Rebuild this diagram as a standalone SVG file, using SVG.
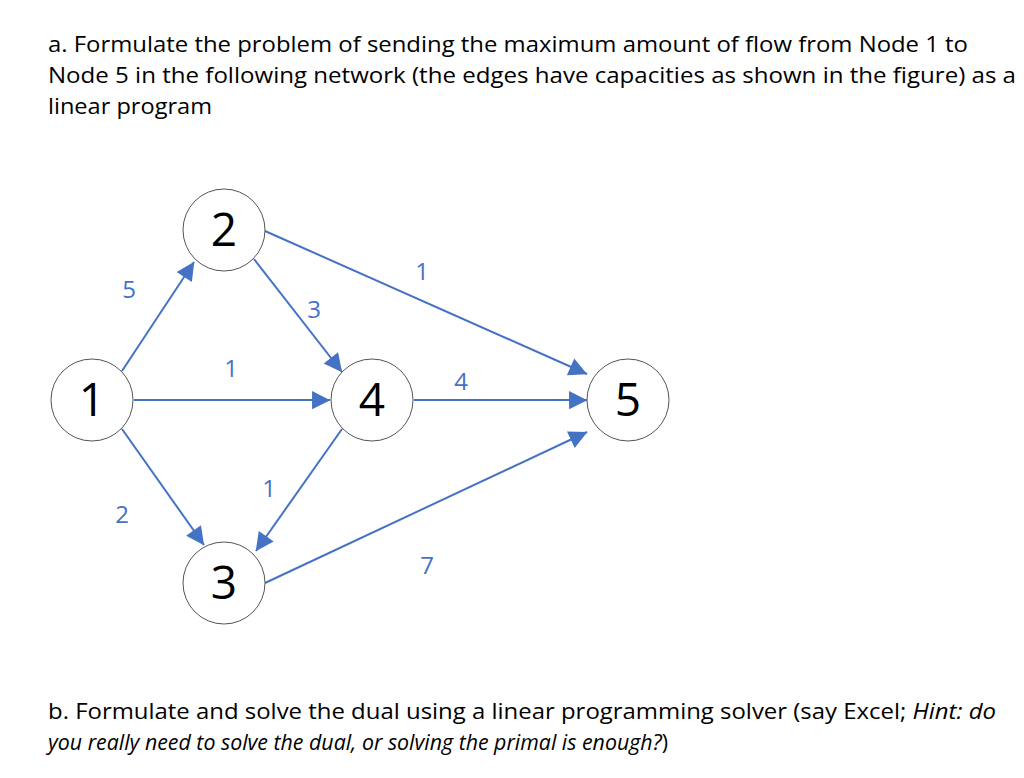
<svg xmlns="http://www.w3.org/2000/svg" width="1024" height="778" viewBox="0 0 1024 778">
<style>
.t{font-family:"Open Sans","Liberation Sans",sans-serif;font-size:21px;fill:#000}
.n circle{fill:#fff;stroke:#555;stroke-width:1}
.n text{font-family:"Open Sans","Liberation Sans",sans-serif;font-size:46px;fill:#000;text-anchor:middle}
.e line{stroke:#4472C4;stroke-width:2;marker-end:url(#a)}
.l{font-family:"Open Sans","Liberation Sans",sans-serif;font-size:24px;fill:#4472C4;text-anchor:middle}
</style>
<defs><marker id="a" viewBox="0 0 10 10" refX="10" refY="5" markerWidth="7" markerHeight="7" orient="auto" markerUnits="userSpaceOnUse" style="overflow:visible"><path d="M0,0L10,5L0,10z" fill="#4472C4" transform="scale(2.6) translate(-6,-3)"/></marker></defs>
<rect width="1024" height="778" fill="#fff"/>
<text class="t" x="48" y="52" textLength="920" lengthAdjust="spacingAndGlyphs">a. Formulate the problem of sending the maximum amount of flow from Node 1 to</text>
<text class="t" x="48" y="83" textLength="968" lengthAdjust="spacingAndGlyphs">Node 5 in the following network (the edges have capacities as shown in the figure) as a</text>
<text class="t" x="48" y="114" textLength="164" lengthAdjust="spacingAndGlyphs">linear program</text>
<text class="t" x="48" y="719" textLength="948" lengthAdjust="spacingAndGlyphs">b. Formulate and solve the dual using a linear programming solver (say Excel; <tspan font-style="italic">Hint: do</tspan></text>
<text class="t" x="48" y="750" font-style="italic" textLength="620" lengthAdjust="spacingAndGlyphs">you really need to solve the dual, or solving the primal is enough?<tspan font-style="normal">)</tspan></text>
<g class="e" id="edges">
<line x1="122" y1="371" x2="194" y2="262"/>
<line x1="254" y1="259" x2="342" y2="372"/>
<line x1="134" y1="400" x2="330" y2="400"/>
<line x1="122" y1="429" x2="204" y2="545"/>
<line x1="342" y1="429" x2="256" y2="551"/>
<line x1="265" y1="231" x2="587" y2="374"/>
<line x1="414" y1="400" x2="587" y2="400"/>
<line x1="265" y1="583" x2="587" y2="432"/>
</g>
<g id="labels">
<text class="l" x="129" y="298">5</text>
<text class="l" x="314" y="318">3</text>
<text class="l" x="231" y="377">1</text>
<text class="l" x="122" y="523">2</text>
<text class="l" x="269" y="497">1</text>
<text class="l" x="422" y="280">1</text>
<text class="l" x="461" y="390">4</text>
<text class="l" x="427" y="574">7</text>
</g>
<g class="n" id="n1"><circle cx="92" cy="400" r="41"/><text x="92" y="416">1</text></g>
<g class="n" id="n2"><circle cx="224" cy="230" r="41"/><text x="224" y="246">2</text></g>
<g class="n" id="n3"><circle cx="224" cy="583" r="41"/><text x="224" y="599">3</text></g>
<g class="n" id="n4"><circle cx="372" cy="400" r="41"/><text x="372" y="416">4</text></g>
<g class="n" id="n5"><circle cx="628" cy="400" r="41"/><text x="628" y="416">5</text></g>
</svg>
